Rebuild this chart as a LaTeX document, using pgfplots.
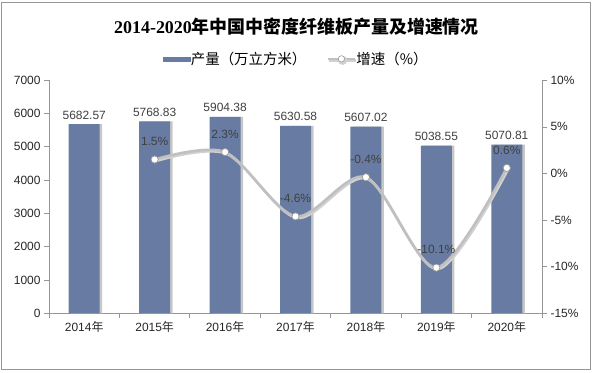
\documentclass[border=0pt]{standalone}
\usepackage{pgfplots}
\pgfplotsset{compat=1.18}
\usepackage{fontspec}
\setmainfont{Liberation Sans}
\newfontfamily\cjk{Noto Sans CJK SC}
\newfontfamily\serifb{Liberation Serif}
\definecolor{barcol}{RGB}{104,124,163}
\definecolor{linecol}{RGB}{192,192,192}
\definecolor{lblcol}{RGB}{64,64,64}
\definecolor{axcol}{RGB}{150,150,150}
\newcommand{\nian}{{\cjk 年}}
\begin{document}
\begin{tikzpicture}[x=1bp,y=1bp]
\path[use as bounding box] (0,0) rectangle (593,372);
\draw[color=axcol, line width=0.8bp] (1.5,2.5) rectangle (590.5,370);
\node[font=\fontsize{18}{18}\selectfont] at (296.5,345) {\serifb\bfseries 2014-2020{\cjk\bfseries 年中国中密度纤维板产量及增速情况}};
\begin{axis}[
  at={(49bp,58.7bp)}, anchor=south west,
  scale only axis, width=493bp, height=233bp,
  xmin=-0.5, xmax=6.5, ymin=0, ymax=7000,
  axis y line*=left, axis x line*=bottom,
  axis line style={color=axcol, line width=0.8bp},
  ytick={0,1000,...,7000},
  xtick={0,...,6},
  xticklabels={2014\nian,2015\nian,2016\nian,2017\nian,2018\nian,2019\nian,2020\nian},
  minor xtick={-0.5,0.5,...,6.5},
  major x tick style={draw=none},
  minor x tick style={color=axcol, line width=0.8bp},
  minor tick length=5bp,
  y tick style={color=axcol, line width=0.8bp},
  major tick length=5bp,
  tick align=outside,
  /pgf/number format/assume math mode=true,
  /pgf/number format/1000 sep={},
  tick label style={font=\fontsize{12}{12}\selectfont, color=black!85},
  ybar, bar width=31bp,
  point meta=explicit symbolic,
  nodes near coords,
  every node near coord/.append style={font=\fontsize{12}{12}\selectfont, color=lblcol, yshift=1.5bp},
  clip=false,
]
\addplot[fill=black!22, draw=none, bar shift=2.5bp, nodes near coords={}, forget plot] coordinates {
(0,5682.57) (1,5768.83) (2,5904.38) (3,5630.58) (4,5607.02) (5,5038.55) (6,5070.81)};
\addplot[fill=barcol, draw=none, bar shift=0bp] coordinates {
(0,5682.57) [5682.57]
(1,5768.83) [5768.83]
(2,5904.38) [5904.38]
(3,5630.58) [5630.58]
(4,5607.02) [5607.02]
(5,5038.55) [5038.55]
(6,5070.81) [5070.81]};
\end{axis}
\begin{axis}[
  at={(49bp,58.7bp)}, anchor=south west,
  scale only axis, width=493bp, height=233bp,
  xmin=-0.5, xmax=6.5, ymin=-15, ymax=10,
  axis y line*=right, axis x line=none,
  axis line style={color=axcol, line width=0.8bp},
  ytick={-15,-10,...,10},
  yticklabels={-15\%,-10\%,-5\%,0\%,5\%,10\%},
  y tick style={color=axcol, line width=0.8bp},
  major tick length=5bp, tick align=outside,
  tick label style={font=\fontsize{12}{12}\selectfont, color=black!85},
  point meta=explicit symbolic,
  clip=false,
  legend style={at={(0.5,1.092)}, anchor=center, draw=none, fill=none,
    font=\cjk\fontsize{14.5}{14.5}\selectfont, column sep=0bp,
    nodes={inner sep=0.5bp},
    /tikz/every even column/.append style={column sep=20bp}},
  legend columns=2,
]
\addlegendimage{legend image code/.code={\fill[barcol] (0bp,-2bp) rectangle (27bp,2bp);}}
\addlegendentry{产量（万立方米）}
\addplot[smooth, color=linecol, line width=2.6bp,
  preaction={draw=black!18, line width=2.6bp, transform canvas={xshift=1.2bp,yshift=-1.5bp}},
  mark=*, mark size=3.6bp, mark options={fill=white, draw=black!40, line width=0.7bp},
  nodes near coords,
  every node near coord/.append style={font=\fontsize{12}{12}\selectfont, color=lblcol, yshift=10bp},
  legend image code/.code={\draw[linecol, line width=2bp] (0bp,0) -- (27bp,0); \draw[fill=white, draw=black!40, line width=0.6bp] (13.5bp,0) circle (3.2bp);}
] coordinates {
(1,1.5) [1.5\%]
(2,2.3) [2.3\%]
(3,-4.6) [-4.6\%]
(4,-0.4) [-0.4\%]
(5,-10.1) [-10.1\%]
(6,0.6) [0.6\%]};
\addlegendentry{增速（\%）}
\end{axis}
\end{tikzpicture}
\end{document}
